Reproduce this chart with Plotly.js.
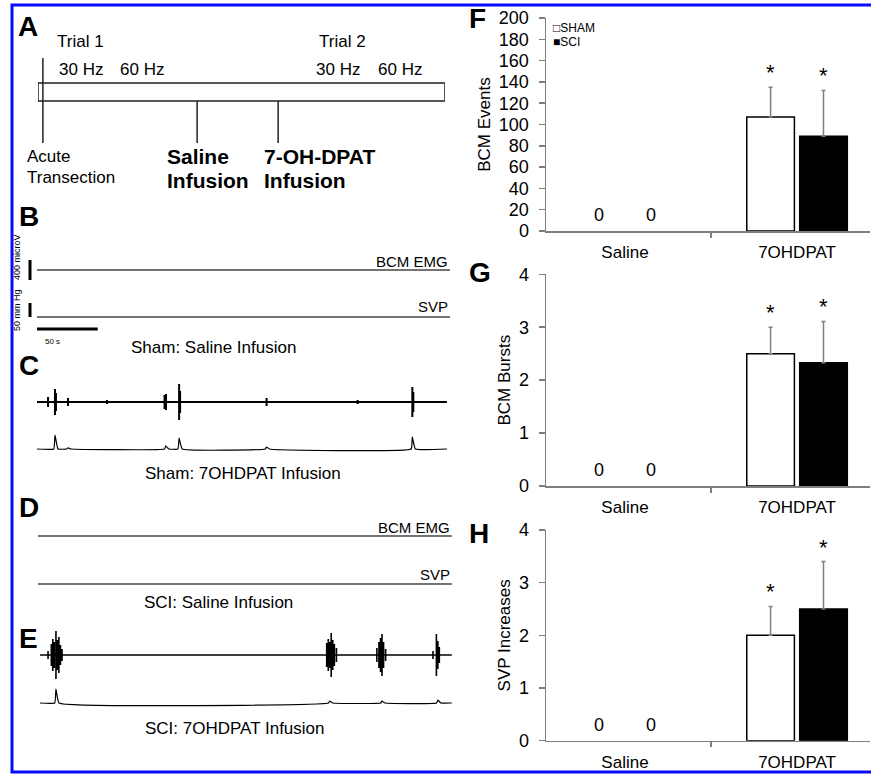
<!DOCTYPE html>
<html><head><meta charset="utf-8">
<script src="https://cdn.plot.ly/plotly-3.0.1.min.js"></script>
<style>html,body{margin:0;padding:0;background:#fff;} #chart{width:871px;height:774px;}</style>
</head><body><div id="chart"></div>
<script>
// ---------------- DATA: bar panels F, G, H ----------------
const categories = ['Saline', '7OHDPAT'];
const groupNames = ['SHAM', 'SCI'];
const bcmEventsSham = [0, 107];
const bcmEventsShamErr = [0, 28];
const bcmEventsSci = [0, 89];
const bcmEventsSciErr = [0, 43];
const bcmBurstsSham = [0, 2.5];
const bcmBurstsShamErr = [0, 0.5];
const bcmBurstsSci = [0, 2.33];
const bcmBurstsSciErr = [0, 0.78];
const svpIncSham = [0, 2.0];
const svpIncShamErr = [0, 0.55];
const svpIncSci = [0, 2.5];
const svpIncSciErr = [0, 0.9];
const significant = [false, true];

// ---------------- DATA: protocol timeline (panel A), arbitrary units ----------------
const timelineSpan = [0, 100];
const protocolEventLines = [['Acute', 'Transection'], ['Saline', 'Infusion'], ['7-OH-DPAT', 'Infusion']];
const protocolEventTimes = [1.2, 39.1, 59.0];
const trialNames = ['Trial 1', 'Trial 2'];
const trialTimes = [4.2, 68.5];
const stimLabels = ['30 Hz', '60 Hz', '30 Hz', '60 Hz'];
const stimTimes = [4.7, 19.7, 67.8, 83.0];

// ---------------- DATA: recordings B–E (time s, EMG microV, SVP mmHg) ----------------
const recordingTitles = ['Sham: Saline Infusion', 'Sham: 7OHDPAT Infusion', 'SCI: Saline Infusion', 'SCI: 7OHDPAT Infusion'];
const recStart = [0, 0, 0.8, 2.5];
const recEnd = [340, 337.5, 341.5, 341.5];
const shamSalineEmgT = [];
const shamSalineEmgA = [];
const shamSalineSvpT = [];
const shamSalineSvpA = [];
const shamDpatEmgT = [9.1, 14.8, 15.6, 25.5, 57.6, 105, 106.2, 117, 117.8, 189, 264, 309, 309.8];
const shamDpatEmgA = [100, 260, 180, 80, 40, 140, 160, 360, 220, 80, 40, 300, 200];
const shamDpatSvpT = [14.8, 25.5, 106, 117, 189, 309];
const shamDpatSvpA = [50, 4, 11, 39, 7, 43];
const sciSalineEmgT = [];
const sciSalineEmgA = [];
const sciSalineSvpT = [];
const sciSalineSvpA = [];
const sciDpatEmgT = [9.1, 11.8, 13.0, 14.2, 15.6, 16.8, 18.0, 19.3, 20.6,
  238.5, 239.8, 241.0, 242.2, 243.5, 244.8, 246.5,
  279.8, 281.5, 282.8, 284.0, 285.3, 287.0,
  326.0, 328.8, 330.0, 331.2];
const sciDpatEmgA = [80, 220, 320, 260, 480, 300, 360, 200, 120,
  240, 320, 260, 440, 300, 220, 140,
  140, 260, 340, 420, 260, 120,
  80, 420, 280, 160];
const sciDpatSvpT = [15.6, 241, 284, 330];
const sciDpatSvpA = [50, 7, 7, 10];
const scaleEmgUV = 400;
const scaleSvpMmHg = 50;
const scaleTimeS = 50;

// ---------------- LAYOUT HELPERS ----------------
const W = 871, H = 774;
const fx = p => p / W;
const fy = p => 1 - p / H;
const FONT = 'Liberation Sans, Arial, sans-serif';
const GREY = '#7f7f7f';

const traces = [];
const annotations = [];
const shapes = [];
const layout = {
  width: W, height: H,
  margin: {l: 0, r: 0, t: 0, b: 0},
  paper_bgcolor: '#ffffff', plot_bgcolor: 'rgba(0,0,0,0)',
  font: {family: FONT, color: '#000', size: 17},
  showlegend: false,
  barmode: 'group', bargap: 0.385, bargroupgap: 0.1,
  annotations: annotations, shapes: shapes
};

// ---------------- BAR PANELS ----------------
const barPanels = [
  {id: '', letter: 'F', title: 'BCM Events', top: 18, bottom: 231, ymax: 200, dtick: 20,
   sham: bcmEventsSham, shamErr: bcmEventsShamErr, sci: bcmEventsSci, sciErr: bcmEventsSciErr, letterY: 18, legend: true},
  {id: '2', letter: 'G', title: 'BCM Bursts', top: 274.3, bottom: 486, ymax: 4, dtick: 1,
   sham: bcmBurstsSham, shamErr: bcmBurstsShamErr, sci: bcmBurstsSci, sciErr: bcmBurstsSciErr, letterY: 273},
  {id: '3', letter: 'H', title: 'SVP Increases', top: 530, bottom: 740.7, ymax: 4, dtick: 1,
   sham: svpIncSham, shamErr: svpIncShamErr, sci: svpIncSci, sciErr: svpIncSciErr, letterY: 533}
];
const slot = (1 - layout.bargap) / 2;
const offsets = [-slot / 2, slot / 2];
barPanels.forEach(p => {
  const xa = 'x' + p.id, ya = 'y' + p.id;
  layout['xaxis' + p.id] = {
    domain: [fx(546), fx(870)], range: [-0.459, 1.424], anchor: ya,
    type: 'category', categoryarray: categories,
    showline: true, linecolor: GREY, linewidth: 1.5,
    ticks: 'outside', tickson: 'boundaries', ticklen: 5, tickcolor: GREY, tickwidth: 1.5,
    tickfont: {size: 17, family: FONT, color: '#000'}, ticklabelstandoff: 5,
    showgrid: false, zeroline: false, fixedrange: true
  };
  layout['yaxis' + p.id] = {
    domain: [fy(p.bottom), fy(p.top)], range: [0, p.ymax], dtick: p.dtick, anchor: xa,
    showline: true, linecolor: GREY, linewidth: 1.5,
    ticks: 'outside', ticklen: 6, tickcolor: GREY, tickwidth: 1.5,
    tickfont: {size: 18, family: FONT, color: '#000'}, ticklabelstandoff: 6,
    title: {text: p.title, font: {size: 17, family: FONT, color: '#000'}, standoff: 4},
    showgrid: false, zeroline: false, fixedrange: true
  };
  const series = [[p.sham, p.shamErr, '#ffffff'], [p.sci, p.sciErr, '#000000']];
  series.forEach((s, k) => {
    traces.push({
      type: 'bar', x: categories, y: s[0], xaxis: xa, yaxis: ya, name: groupNames[k],
      marker: {color: s[2], line: {color: '#000', width: s[0].map(v => v === 0 ? 0 : 1.5)}},
      error_y: {type: 'data', symmetric: false, array: s[1].map(e => e > 0 ? e : NaN),
                arrayminus: s[1].map(e => e > 0 ? 0 : NaN),
                color: GREY, thickness: 1.5, width: 2},
      hoverinfo: 'skip'
    });
    s[0].forEach((v, ci) => {
      if (v === 0) {
        annotations.push({xref: xa, yref: ya, x: ci + offsets[k], y: 0, text: String(v), showarrow: false,
          yanchor: 'bottom', yshift: 4, font: {size: 18, family: FONT}});
      }
      if (significant[ci]) {
        annotations.push({xref: xa, yref: ya, x: ci + offsets[k], y: v + s[1][ci], text: '*', showarrow: false,
          yanchor: 'bottom', yshift: 0, font: {size: 22, family: FONT}});
      }
    });
  });
  annotations.push({xref: 'paper', yref: 'paper', x: fx(467), y: fy(p.letterY), text: '<b>' + p.letter + '</b>',
    xanchor: 'left', yanchor: 'middle', showarrow: false, font: {size: 28, family: FONT}});
  if (p.legend) {
    groupNames.forEach((g, k) => {
      annotations.push({xref: 'paper', yref: 'paper', x: fx(551), y: fy(28 + 14 * k),
        text: (k === 0 ? '\u25A1' : '\u25A0') + g, xanchor: 'left', yanchor: 'middle', showarrow: false,
        font: {size: 12, family: FONT}});
    });
  }
});

// ---------------- PANEL A: protocol timeline ----------------
const A = {barTop: 83, barBottom: 101, lineBottom: 143, transectTop: 58};
layout.xaxis4 = {domain: [fx(38), fx(445)], range: timelineSpan, anchor: 'y4', visible: false, fixedrange: true};
layout.yaxis4 = {domain: [fy(200), fy(30)], range: [200, 30], anchor: 'x4', visible: false, fixedrange: true};
traces.push({type: 'scatter', mode: 'lines', xaxis: 'x4', yaxis: 'y4', hoverinfo: 'skip',
  x: [timelineSpan[0], timelineSpan[1], timelineSpan[1], timelineSpan[0], timelineSpan[0]],
  y: [A.barTop, A.barTop, A.barBottom, A.barBottom, A.barTop],
  line: {color: '#222', width: 1.5}, cliponaxis: false});
protocolEventTimes.forEach((t, i) => {
  traces.push({type: 'scatter', mode: 'lines', xaxis: 'x4', yaxis: 'y4', hoverinfo: 'skip',
    x: [t, t], y: [i === 0 ? A.transectTop : A.barBottom, A.lineBottom], line: {color: '#222', width: 1.5}});
});
const evShift = [-18, -32, -16];
protocolEventLines.forEach((lines, i) => {
  const bold = i > 0;
  lines.forEach((txt, j) => {
    annotations.push({xref: 'x4', yref: 'y4', x: protocolEventTimes[i], y: 157 + j * (bold ? 24 : 21),
      xshift: evShift[i], text: bold ? '<b>' + txt + '</b>' : txt, xanchor: 'left', yanchor: 'middle',
      showarrow: false, font: {size: bold ? 21 : 17, family: FONT}});
  });
});
trialNames.forEach((t, i) => annotations.push({xref: 'x4', yref: 'y4', x: trialTimes[i], y: 42, text: t,
  xanchor: 'left', yanchor: 'middle', showarrow: false, font: {size: 17, family: FONT}}));
stimLabels.forEach((t, i) => annotations.push({xref: 'x4', yref: 'y4', x: stimTimes[i], y: 70, text: t,
  xanchor: 'left', yanchor: 'middle', showarrow: false, font: {size: 17, family: FONT}}));
annotations.push({xref: 'paper', yref: 'paper', x: fx(16), y: fy(27), text: '<b>A</b>', xanchor: 'left',
  yanchor: 'middle', showarrow: false, font: {size: 28, family: FONT}});

// ---------------- PANELS B–E: recordings ----------------
const sPerPx = 340 / 413;
const uVPerPx = scaleEmgUV / 20;
const mmHgPerPx = scaleSvpMmHg / 14;
layout.xaxis5 = {domain: [fx(15), fx(455)], range: [-(37 - 15) * sPerPx, (455 - 37) * sPerPx],
  anchor: 'y5', visible: false, fixedrange: true};
layout.yaxis5 = {domain: [0, 0.01], range: [0, 1], anchor: 'x5', visible: false, fixedrange: true};
const recPanels = [
  {emgT: shamSalineEmgT, emgA: shamSalineEmgA, svpT: shamSalineSvpT, svpA: shamSalineSvpA, emgBase: 270, svpBase: 317,
   letter: 'B', letterY: 217, capY: 347, capX: 213, labels: true, color: '#444', emgW: 1.5, svpW: 1.5},
  {emgT: shamDpatEmgT, emgA: shamDpatEmgA, svpT: shamDpatSvpT, svpA: shamDpatSvpA, emgBase: 402, svpBase: 449,
   letter: 'C', letterY: 366, capY: 473, capX: 243, labels: false, color: '#000', emgW: 2, svpW: 1.2},
  {emgT: sciSalineEmgT, emgA: sciSalineEmgA, svpT: sciSalineSvpT, svpA: sciSalineSvpA, emgBase: 536, svpBase: 584,
   letter: 'D', letterY: 507, capY: 602, capX: 218, labels: true, color: '#444', emgW: 1.5, svpW: 1.5},
  {emgT: sciDpatEmgT, emgA: sciDpatEmgA, svpT: sciDpatSvpT, svpA: sciDpatSvpA, emgBase: 655, svpBase: 703,
   letter: 'E', letterY: 638, capY: 728, capX: 235, labels: false, color: '#000', emgW: 1.6, svpW: 1.2}
];
function emgPath(t0, t1, ts, as) {
  const x = [t0], y = [0];
  ts.forEach((t, i) => { x.push(t, t, t, t); y.push(0, as[i], -as[i], 0); });
  x.push(t1); y.push(0);
  return {x, y};
}
function svpPath(t0, t1, ts, as) {
  const x = [t0], y = [0];
  ts.forEach((t, i) => { x.push(t - 1.0, t, t + 2.5); y.push(0, as[i], 0); });
  x.push(t1); y.push(0);
  return {x, y};
}
recPanels.forEach((p, i) => {
  const ye = 'y' + (6 + 2 * i), ys = 'y' + (7 + 2 * i);
  layout['yaxis' + (6 + 2 * i)] = {domain: [fy(p.emgBase + 30), fy(p.emgBase - 30)], range: [-30 * uVPerPx, 30 * uVPerPx],
    anchor: 'x5', visible: false, fixedrange: true};
  layout['yaxis' + (7 + 2 * i)] = {domain: [fy(p.svpBase + 15), fy(p.svpBase - 25)], range: [-15 * mmHgPerPx, 25 * mmHgPerPx],
    anchor: 'x5', visible: false, fixedrange: true};
  const e = emgPath(recStart[i], recEnd[i], p.emgT, p.emgA);
  traces.push({type: 'scatter', mode: 'lines', xaxis: 'x5', yaxis: ye, x: e.x, y: e.y, hoverinfo: 'skip',
    line: {color: p.color, width: p.emgW}});
  const s = svpPath(recStart[i], recEnd[i], p.svpT, p.svpA);
  traces.push({type: 'scatter', mode: 'lines', xaxis: 'x5', yaxis: ys, x: s.x, y: s.y, hoverinfo: 'skip',
    line: {color: p.color, width: p.svpW, shape: 'spline', smoothing: 0.3}});
  annotations.push({xref: 'paper', yref: 'paper', x: fx(p.capX), y: fy(p.capY), text: recordingTitles[i],
    xanchor: 'center', yanchor: 'middle', showarrow: false, font: {size: 17, family: FONT}});
  annotations.push({xref: 'paper', yref: 'paper', x: fx(17), y: fy(p.letterY), text: '<b>' + p.letter + '</b>',
    xanchor: 'left', yanchor: 'middle', showarrow: false, font: {size: 28, family: FONT}});
  if (p.labels) {
    annotations.push({xref: 'x5', yref: ye, x: recEnd[i], y: 0, yshift: 9, text: 'BCM EMG', xanchor: 'right',
      yanchor: 'middle', showarrow: false, font: {size: 15, family: FONT}});
    annotations.push({xref: 'x5', yref: ys, x: recEnd[i], y: 0, yshift: 10, text: 'SVP', xanchor: 'right',
      yanchor: 'middle', showarrow: false, font: {size: 15, family: FONT}});
  }
  if (i === 0) {
    const sbT = -7 * sPerPx;
    traces.push({type: 'scatter', mode: 'lines', xaxis: 'x5', yaxis: ye, hoverinfo: 'skip',
      x: [sbT, sbT], y: [-scaleEmgUV / 2, scaleEmgUV / 2], line: {color: '#000', width: 3}});
    traces.push({type: 'scatter', mode: 'lines', xaxis: 'x5', yaxis: ys, hoverinfo: 'skip',
      x: [sbT, sbT], y: [0, scaleSvpMmHg], line: {color: '#000', width: 3}});
    traces.push({type: 'scatter', mode: 'lines', xaxis: 'x5', yaxis: ys, hoverinfo: 'skip',
      x: [0, scaleTimeS], y: [-12 * mmHgPerPx, -12 * mmHgPerPx], line: {color: '#000', width: 3}});
    annotations.push({xref: 'x5', yref: ys, x: scaleTimeS / 4, y: -12 * mmHgPerPx, yshift: -13,
      text: scaleTimeS + ' s', xanchor: 'center', yanchor: 'middle', showarrow: false, font: {size: 8, family: FONT}});
    annotations.push({xref: 'paper', yref: 'paper', x: fx(17), y: fy(257), text: scaleEmgUV + ' microV',
      textangle: -90, xanchor: 'center', yanchor: 'middle', showarrow: false, font: {size: 9, family: FONT}});
    annotations.push({xref: 'paper', yref: 'paper', x: fx(17), y: fy(310), text: scaleSvpMmHg + ' mm Hg',
      textangle: -90, xanchor: 'center', yanchor: 'middle', showarrow: false, font: {size: 9, family: FONT}});
  }
});

// ---------------- Frame ----------------
shapes.push({type: 'rect', xref: 'paper', yref: 'paper', x0: fx(12), x1: fx(895), y0: fy(772), y1: fy(5),
  line: {color: '#0a0aff', width: 3}, fillcolor: 'rgba(0,0,0,0)'});

Plotly.newPlot('chart', traces, layout, {staticPlot: true, displayModeBar: false});
</script></body></html>
